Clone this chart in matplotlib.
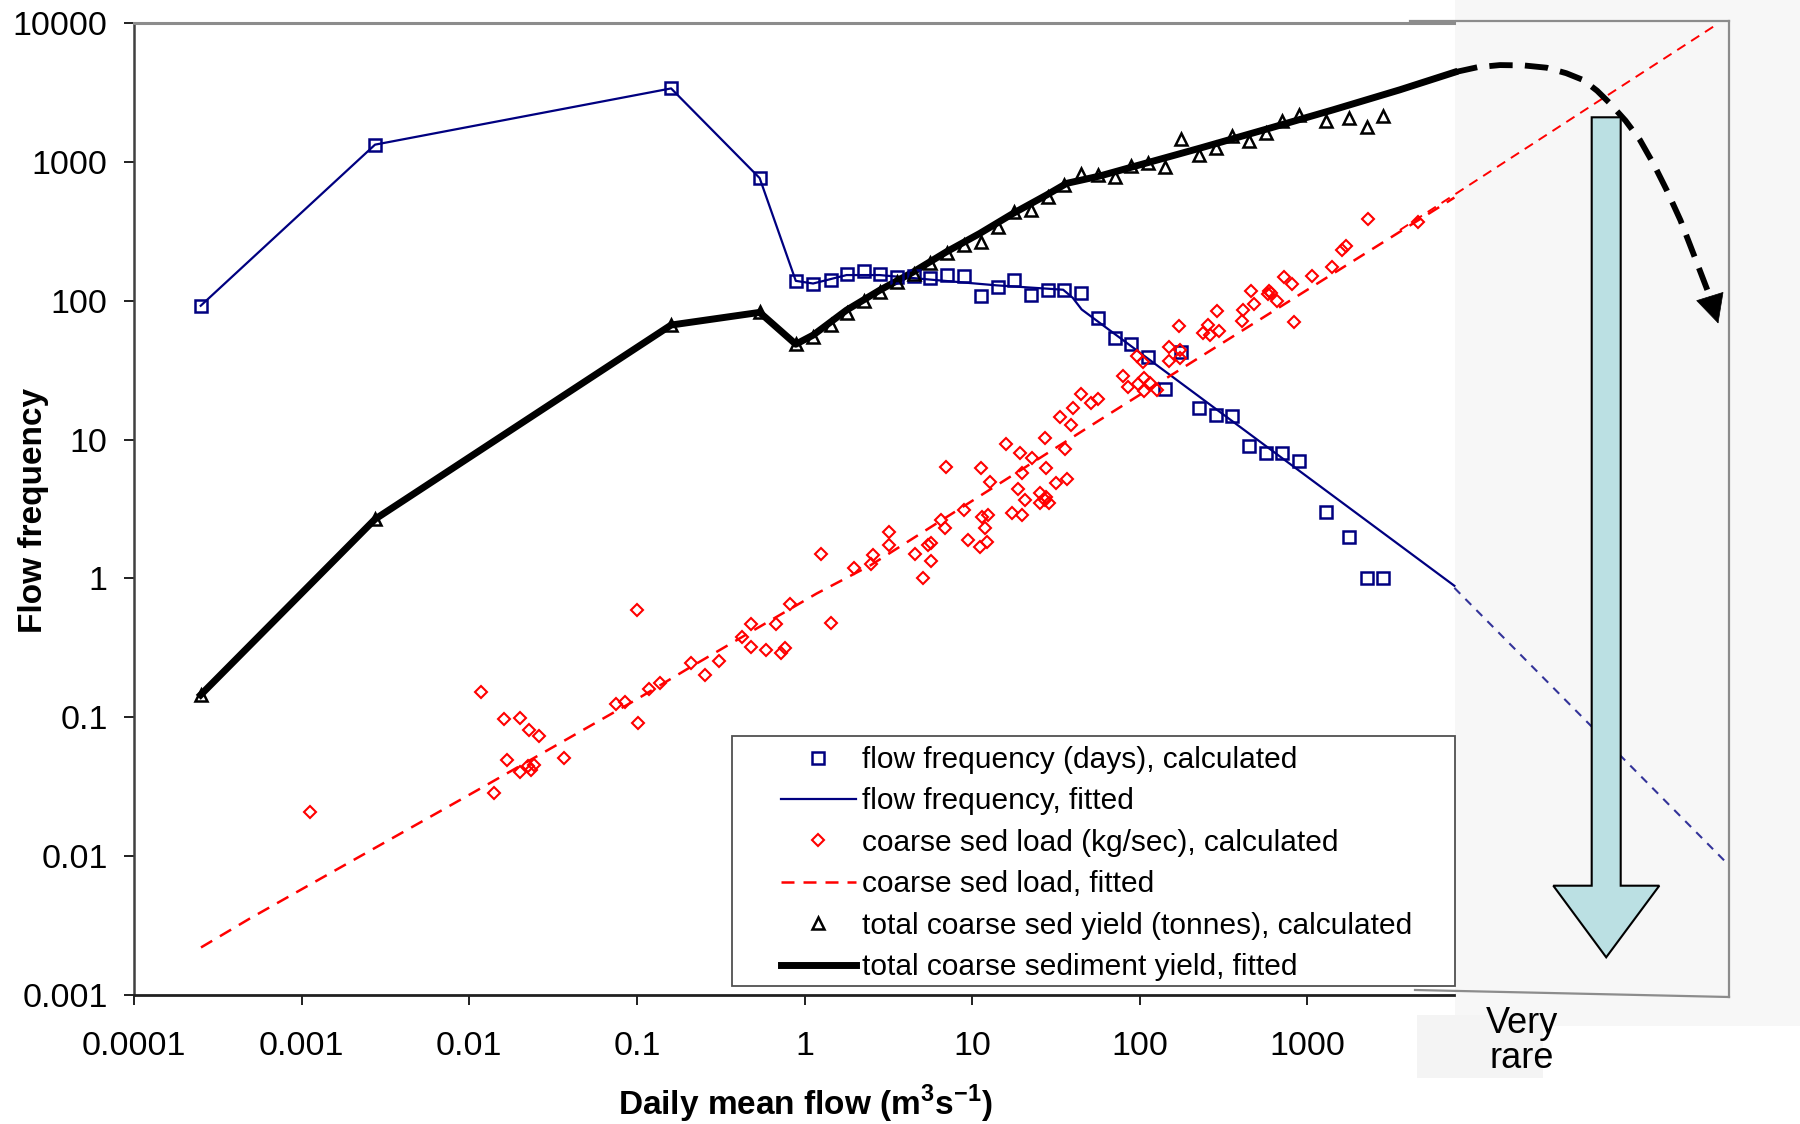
import numpy as np
import matplotlib
matplotlib.use('Agg')
import matplotlib.pyplot as plt
from matplotlib.patches import Rectangle, Polygon
from matplotlib.lines import Line2D

plt.rcParams['font.family'] = ['Liberation Sans', 'DejaVu Sans']
plt.rcParams['mathtext.fontset'] = 'custom'
plt.rcParams['mathtext.rm'] = 'Liberation Sans'
plt.rcParams['mathtext.bf'] = 'Liberation Sans:bold'

# ---------------- data ----------------
flow_bins = [0.00025, 0.00274, 0.160, 0.54, 0.887, 1.125, 1.43, 1.80, 2.25, 2.83,
             3.56, 4.48, 5.63, 7.08, 8.9, 11.3, 14.2, 17.8, 22.4, 28.2,
             35.4, 44.7, 56.2, 71, 89.1, 112, 141, 177, 225, 283,
             356, 448, 563, 710, 890, 1290, 1775, 2254, 2833]
freq_calc = [92, 1330, 3380, 764, 139, 131, 141, 156, 164, 157,
             149, 150, 145, 153, 150, 108, 126, 142, 110, 120,
             119, 113, 74.5, 53.5, 48.7, 39.1, 23, 42.8, 17.0, 15.0,
             14.8, 8.98, 8.0, 8.0, 6.98, 2.99, 1.99, 1.0, 1.0]
yield_calc = [0.145, 2.67, 66.8, 82.4, 48.6, 55, 66.7, 81.9, 99.3, 116,
              137, 157, 186, 221, 252, 266, 337, 437, 450, 561,
              681, 817, 803, 781, 938, 986, 918, 1466, 1125, 1257,
              1527, 1420, 1612, 1959, 2163, 1959, 2071, 1782, 2148]

freq_fit_x = [0.00025, 0.00274, 0.160, 0.54, 0.887, 1.125, 1.78, 2.81, 5.6, 14.0,
              34.9, 39.8, 45.0, 7530]
freq_fit_y = [92, 1330, 3380, 764, 139, 133, 153, 153, 142, 129,
              120, 105, 86.5, 0.885]
freq_ext_x = [7530, 327000]
freq_ext_y = [0.855, 0.0086]

sed_x = [0.00112, 0.0118, 0.0161, 0.0200, 0.0227, 0.0259, 0.0169, 0.0200, 0.0233, 0.0245,
         0.0224, 0.0366, 0.0141, 0.0995, 0.0755, 0.0847, 0.1017, 0.118, 0.137, 0.209,
         0.254, 0.309, 0.424, 0.479, 0.479, 0.593, 0.722, 0.764, 0.675, 0.817,
         1.436, 1.26, 1.97, 2.48, 2.55, 3.2, 3.2, 4.59, 5.67, 5.42,
         5.67, 5.1, 6.56, 6.87, 7.03, 8.95, 9.46, 11.3, 12.7, 11.4,
         12.5, 11.9, 11.1, 12.2, 16.0, 19.3, 22.6, 19.7, 18.8, 20.6,
         17.2, 19.7, 25.3, 27.5, 28.8, 25.3, 27.1, 27.1, 27.4, 35.7,
         31.8, 36.9, 33.4, 40.1, 38.7, 44.4, 51.5, 56.5, 79.6, 85.3,
         96.5, 105, 97, 106, 115, 106, 126, 150, 150, 173,
         173, 172, 239, 254, 264, 296, 287, 414, 408, 482,
         460, 591, 583, 603, 655, 728, 812, 830, 1069, 1406,
         1600, 1690, 2308, 4580]
sed_y = [0.0208, 0.152, 0.097, 0.0995, 0.0806, 0.0733, 0.049, 0.0403, 0.0415, 0.045,
         0.0444, 0.0513, 0.0286, 0.59, 0.124, 0.129, 0.0916, 0.161, 0.177, 0.248,
         0.201, 0.255, 0.379, 0.468, 0.321, 0.304, 0.290, 0.318, 0.468, 0.659,
         0.478, 1.49, 1.18, 1.28, 1.47, 1.73, 2.16, 1.49, 1.80, 1.75,
         1.33, 1.01, 2.65, 2.29, 6.36, 3.10, 1.88, 6.19, 4.96, 2.77,
         2.85, 2.29, 1.69, 1.83, 9.23, 8.02, 7.31, 5.75, 4.44, 3.66,
         2.94, 2.85, 4.13, 3.86, 3.47, 3.47, 3.66, 10.2, 6.25, 8.53,
         4.88, 5.19, 14.6, 17.0, 12.7, 21.2, 18.2, 19.5, 28.8, 24.0,
         39.9, 36.3, 25.1, 27.7, 25.5, 22.5, 22.7, 46.6, 36.7, 44.1,
         38.4, 65.6, 58.1, 66.7, 56.5, 60.7, 84.6, 85.5, 71.6, 94.6,
         117, 117, 112, 114, 99.7, 149, 133, 70.5, 151, 174,
         230, 246, 387, 368]

sed_fit_x = [0.000251, 0.00049, 0.0121, 0.097, 0.209, 1.18, 2.48, 66.4, 7530]
sed_fit_y = [0.0022, 0.00355, 0.0315, 0.132, 0.230, 0.778, 1.245, 15.4, 553]
sed_ext_x = [3565, 273500]
sed_ext_y = [323, 9680]

yield_fit_x = [0.00025, 0.00274, 0.160, 0.54, 0.887, 1.125, 1.78, 2.81, 4.45, 7.03,
               11.1, 17.6, 27.8, 36.6, 57.8, 91.4, 229, 571, 1426, 3565, 7530]
yield_fit_y = [0.145, 2.67, 66.8, 82.4, 48.6, 56.5, 85.5, 119, 161, 225,
               305, 426, 577, 700, 791, 923, 1256, 1722, 2371, 3304, 4416]
# hand-drawn "very rare" continuation of the yield curve
yield_ext_x = [7530, 10300, 14090, 19500, 26730, 35000, 44260, 53500, 63830, 79000,
               96400, 117000, 139000, 168000, 200500, 251800, 282500]
yield_ext_y = [4416, 4800, 4977, 4950, 4764, 4350, 3882, 3250, 2636, 1980,
               1435, 950, 627, 380, 219, 107, 68.5]

x_ticks = [1e-4, 1e-3, 1e-2, 1e-1, 1, 10, 100, 1000]
x_tick_labels = ['0.0001', '0.001', '0.01', '0.1', '1', '10', '100', '1000']
y_ticks = [1e-3, 1e-2, 1e-1, 1, 10, 100, 1000, 10000]
y_tick_labels = ['0.001', '0.01', '0.1', '1', '10', '100', '1000', '10000']

legend_labels = ['flow frequency (days), calculated', 'flow frequency, fitted',
                 'coarse sed load (kg/sec), calculated', 'coarse sed load, fitted',
                 'total coarse sed yield (tonnes), calculated',
                 'total coarse sediment yield, fitted']

# ---------------- figure ----------------
W, H = 1800, 1124
fig = plt.figure(figsize=(W / 100, H / 100), dpi=100)


def fx(x):
    return x / W


def fy(y):
    return 1 - y / H


# grey "very rare" background regions
fig.add_artist(Rectangle((fx(1455), fy(1026)), (1800 - 1455) / W, 1026 / H,
                         transform=fig.transFigure, facecolor='#F7F7F7',
                         edgecolor='none', zorder=-3))
fig.add_artist(Rectangle((fx(1417), fy(1078)), (1543 - 1417) / W, (1078 - 1015) / H,
                         transform=fig.transFigure, facecolor='#F4F4F4',
                         edgecolor='none', zorder=-3))

x_white_end = 10 ** 3.877
ax = fig.add_axes([fx(134), fy(995), (1729 - 134) / W, (995 - 23) / H])
ax.set_facecolor('none')
ax.set_xscale('log')
ax.set_yscale('log')
ax.set_xlim(1e-4, 10 ** 5.515)
ax.set_ylim(1e-3, 1e4)

navy = '#000080'
h_sq, = ax.plot(flow_bins, freq_calc, ls='none', marker='s', ms=9.3, mfc='none',
                mec=navy, mew=1.8, zorder=4)
h_fl, = ax.plot(freq_fit_x, freq_fit_y, color=navy, lw=1.6, zorder=3)
ax.plot(freq_ext_x, freq_ext_y, color='#333399', lw=1.5, ls=(0, (4, 3.5)), zorder=3)

h_di, = ax.plot(sed_x, sed_y, ls='none', marker='D', ms=6.6, mfc='none',
                mec='red', mew=1.5, zorder=4)
h_rl, = ax.plot(sed_fit_x, sed_fit_y, color='red', lw=1.8, ls=(0, (5.2, 3.6)), zorder=3)
ax.plot(sed_ext_x, sed_ext_y, color='red', lw=1.4, ls=(0, (5, 3.5)), zorder=3)

h_tr, = ax.plot(flow_bins, yield_calc, ls='none', marker='^', ms=9.3, mfc='none',
                mec='black', mew=1.8, zorder=4)
h_bl, = ax.plot(yield_fit_x, yield_fit_y, color='black', lw=5.0, zorder=3,
                solid_joinstyle='round')
ax.plot(yield_ext_x[:-1], yield_ext_y[:-1], color='black', lw=4.2,
        ls=(0, (4, 2.1)), zorder=3)
ax.annotate('', xy=(yield_ext_x[-1], yield_ext_y[-1]),
            xytext=(yield_ext_x[-2], yield_ext_y[-2]),
            arrowprops=dict(arrowstyle='-|>,head_length=0.9,head_width=0.45',
                            color='black', lw=0.5, mutation_scale=22,
                            shrinkA=0, shrinkB=0), zorder=3)

# axes styling
ax.set_xticks(x_ticks)
ax.set_xticklabels(x_tick_labels)
ax.set_yticks(y_ticks)
ax.set_yticklabels(y_tick_labels)
ax.minorticks_off()
ax.tick_params(axis='x', direction='out', length=7, width=1.4, pad=19,
               labelsize=24.5, color='#202020')
ax.tick_params(axis='y', direction='out', length=7, width=1.4, pad=12,
               labelsize=24.5, color='#202020')
ax.spines['right'].set_visible(False)
ax.spines['top'].set_color('#8C8C8C')
ax.spines['top'].set_linewidth(2.2)
ax.spines['top'].set_bounds(1e-4, x_white_end)
ax.spines['bottom'].set_bounds(1e-4, x_white_end)
ax.spines['bottom'].set_linewidth(2.0)
ax.spines['bottom'].set_color('#202020')
ax.spines['left'].set_linewidth(1.8)
ax.spines['left'].set_color('#404040')

# grey outline of the extended region
box_col = '#8C8C8C'
for (xa, ya), (xb, yb) in [((1410, 21), (1729, 21)), ((1729, 21), (1729, 997)),
                           ((1415, 990), (1729, 997))]:
    fig.add_artist(Line2D([fx(xa), fx(xb)], [fy(ya), fy(yb)],
                          transform=fig.transFigure, color=box_col, lw=1.6, zorder=1))

# legend frame + legend
fig.add_artist(Rectangle((fx(732), fy(986)), (1455 - 732) / W, (986 - 736) / H,
                         transform=fig.transFigure, facecolor='white',
                         edgecolor='#505050', lw=1.3, zorder=2))
leg = fig.legend([h_sq, h_fl, h_di, h_rl, h_tr, h_bl], legend_labels,
                 loc='upper left', bbox_to_anchor=(fx(781), fy(746)),
                 bbox_transform=fig.transFigure, frameon=False, fontsize=21.5,
                 borderpad=0, borderaxespad=0, handlelength=2.5,
                 handletextpad=0.2, labelspacing=0.45, numpoints=1)
leg.set_zorder(3)

# cyan arrow
arrow_px = [(1591.7, 117.3), (1620.7, 117.3), (1620.7, 885.7), (1659.3, 885.7),
            (1606.2, 957.3), (1553.3, 885.7), (1591.7, 885.7)]
fig.add_artist(Polygon([(fx(a), fy(b)) for a, b in arrow_px], closed=True,
                       transform=fig.transFigure, facecolor='#BBE0E3',
                       edgecolor='black', lw=1.5, zorder=4))

# texts
fig.text(fx(1522), fy(1041), 'Very\nrare', ha='center', va='center',
         fontsize=26, linespacing=0.97, zorder=5)
fig.text(fx(34), fy(510), 'Flow frequency', rotation=90, ha='center', va='center',
         fontsize=24, fontweight='bold')
fig.text(fx(805), fy(1104), r'Daily mean flow (m$^{\mathbf{3}}$s$^{\mathbf{-1}}$)',
         ha='center', va='center', fontsize=24, fontweight='bold')

fig.savefig('out.png', dpi=100)
